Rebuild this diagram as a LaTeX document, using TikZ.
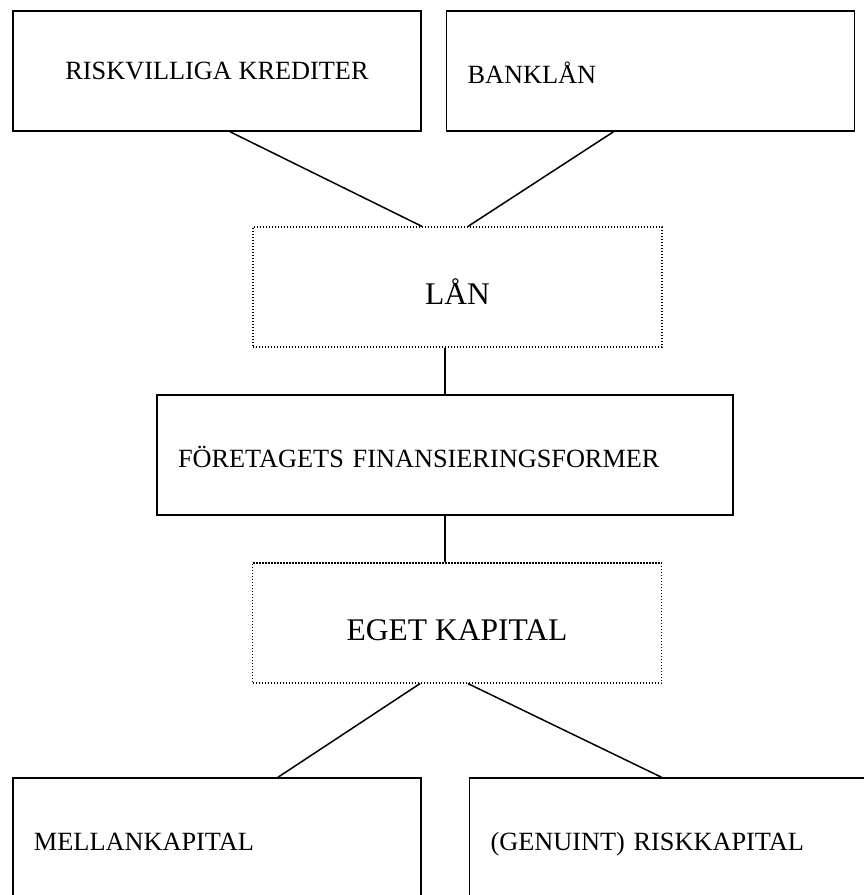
\documentclass[tikz,border=0pt]{standalone}
\usepackage{fontspec}
\setmainfont{Liberation Serif}
\usetikzlibrary{calc,positioning}
\tikzset{
  fkbox/.style={draw=black, line width=1.5pt, minimum width=408pt, minimum height=120pt, align=center, inner sep=0pt, font=\fontsize{26.3}{31}\selectfont},
  fkleft/.style={fkbox, text width=366pt, align=left, inner xsep=21pt, text height=25.2pt, text depth=0pt},
  fkdot/.style={draw=black, line width=1.2pt, dash pattern=on 1.2pt off 1.8pt, minimum width=409pt, minimum height=120pt, align=center, inner sep=0pt, font=\fontsize{31.5}{37}\selectfont, text height=35.6pt, text depth=0pt},
  fkline/.style={line width=1.5pt, draw=black}
}

\begin{document}
\begin{tikzpicture}[x=1pt, y=-1pt]
  \useasboundingbox (0,0) rectangle (864,895);
  \node[fkbox] (kred) at (217,71) {RISKVILLIGA KREDITER};
  \node[fkleft, right=24pt of kred] (bank) {BANKLÅN};
  \node[fkdot] (lan) at (457.5,287) {LÅN};
  \node[fkleft, text width=534pt] (form) at (445,455) {FÖRETAGETS FINANSIERINGSFORMER};
  \node[fkdot] (eget) at (457,623) {EGET KAPITAL};
  \node[fkleft] (mellan) at (217,838) {MELLANKAPITAL};
  \node[fkleft, right=47pt of mellan] (risk) {(GENUINT) RISKKAPITAL};
  \draw[fkline] ([xshift=13pt]kred.south) -- ([xshift=-35.5pt]lan.north);
  \draw[fkline] ([xshift=-37pt]bank.south) -- ([xshift=10.5pt]lan.north);
  \draw[fkline] (lan.south -| form.north) -- (form.north);
  \draw[fkline] (form.south) -- (form.south |- eget.north);
  \draw[fkline] ([xshift=-37pt]eget.south) -- ([xshift=61pt]mellan.north);
  \draw[fkline] ([xshift=11pt]eget.south) -- ([xshift=-12pt]risk.north);
\end{tikzpicture}
\end{document}
